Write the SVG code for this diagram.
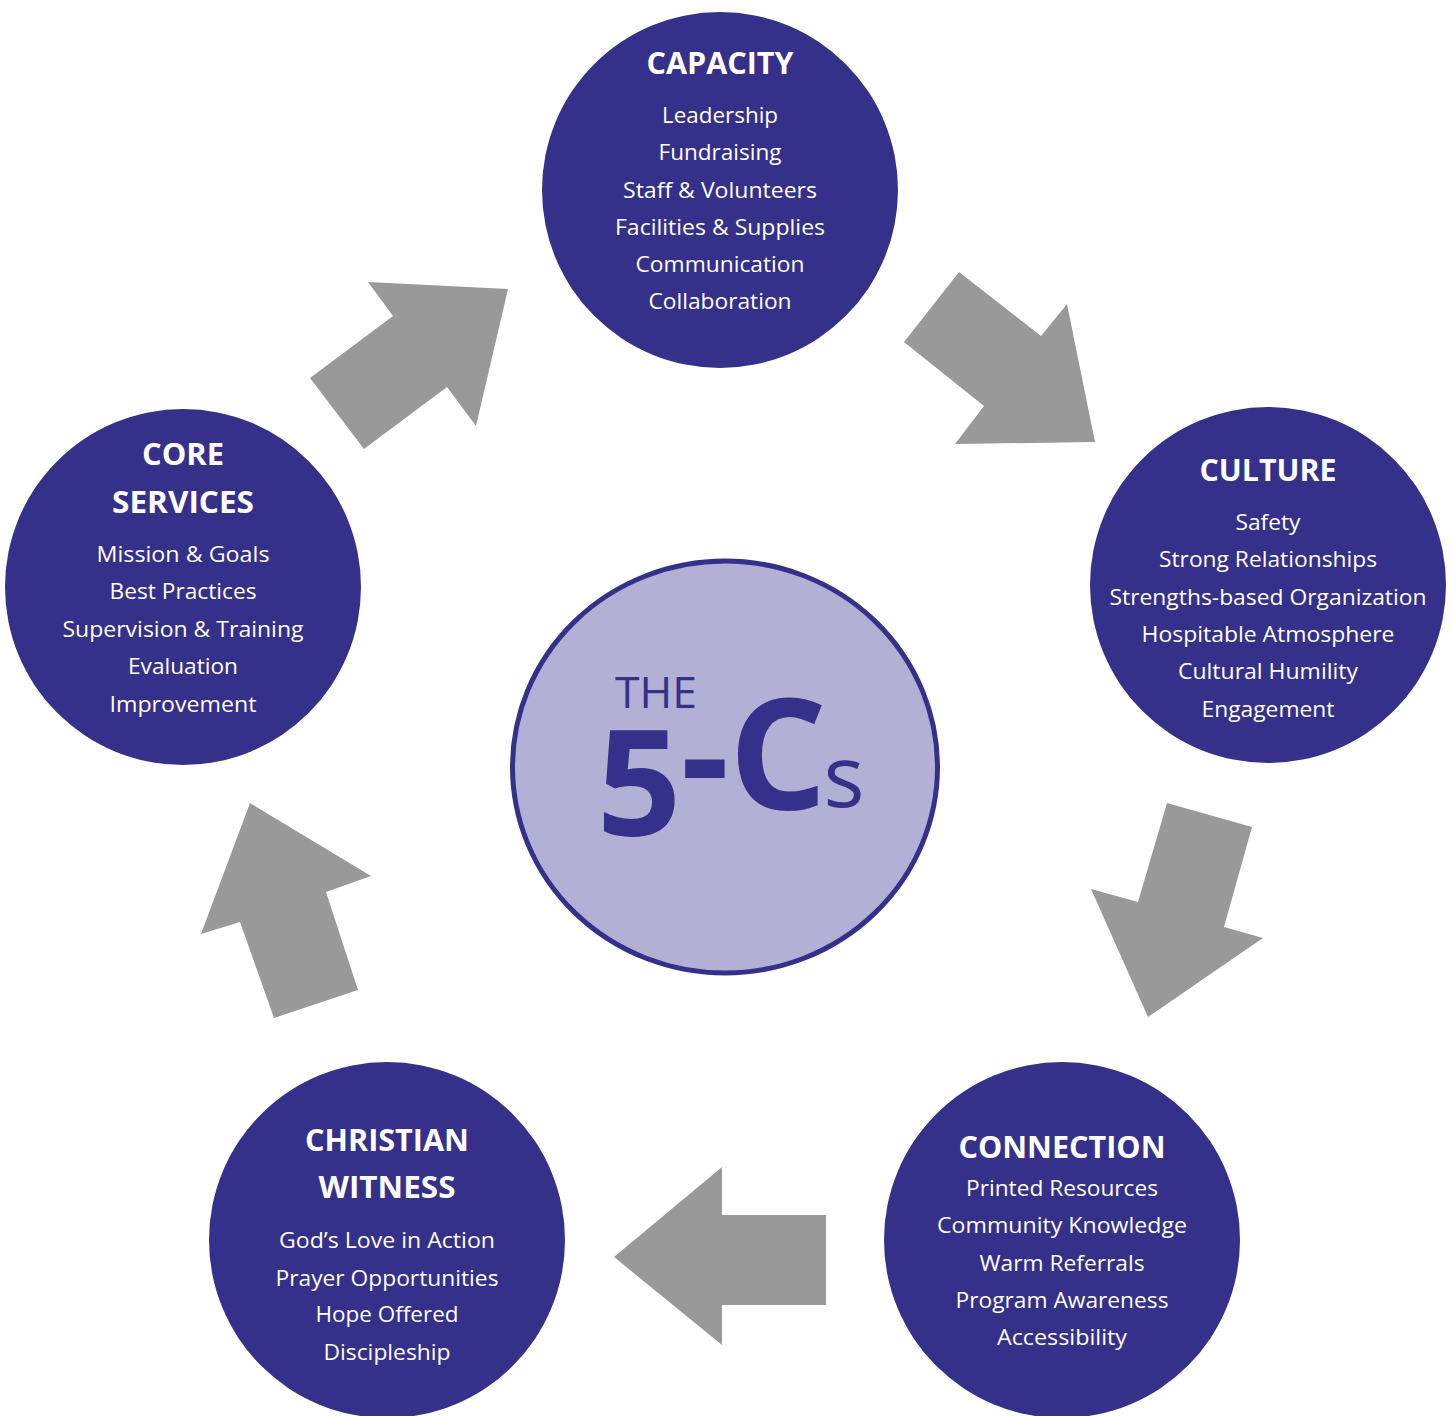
<svg xmlns="http://www.w3.org/2000/svg" width="1453" height="1416" viewBox="0 0 1453 1416">
<style>
.node{fill:#35308a}
.t{font-family:"Open Sans","Liberation Sans",sans-serif;fill:#ffffff;text-anchor:middle}
.h{font-size:30px;font-weight:700}
.b{font-size:22px}
.arrow{fill:#999999}
.c{font-family:"Open Sans","Liberation Sans",sans-serif;fill:#35308a;text-anchor:middle}
</style>
<rect width="1453" height="1416" fill="#ffffff"/>
<g id="connectors">
<polygon class="arrow" points="508,289 476,426 447,387 364,449 310,378 393,316 368,282"/>
<polygon class="arrow" points="959,272 1041,336 1067,304 1095,442 955,444 984,406 904,342"/>
<polygon class="arrow" points="1167,803 1252,827 1224,927 1263,938 1148,1017 1091,889 1138,902"/>
<polygon class="arrow" points="250,803 371,876 326,892 358,990 274,1018 240,922 201,934"/>
<polygon class="arrow" points="722,1167 722,1215 826,1215 826,1305 722,1305 722,1345 614,1257"/>
</g>
<g id="center">
<ellipse cx="725" cy="767" rx="212.5" ry="206" fill="#b2b1d5" stroke="#35308a" stroke-width="5"/>
<text class="c" x="656" y="708" font-size="44" textLength="82" lengthAdjust="spacingAndGlyphs">THE</text>
<text class="c" x="639" y="836" font-size="148" font-weight="700">5</text>
<text class="c" x="705" y="809" font-size="150" font-weight="700">-</text>
<text class="c" x="778" y="809" font-size="154" font-weight="700">C</text>
<text class="c" x="844" y="807" font-size="86" font-weight="400">s</text>
</g>
<g id="capacity">
<circle class="node" cx="720" cy="190" r="178"/>
<text class="t h" x="720" y="74" textLength="147" lengthAdjust="spacingAndGlyphs">CAPACITY</text>
<text class="t b" x="720" y="123" textLength="116" lengthAdjust="spacingAndGlyphs">Leadership</text>
<text class="t b" x="720" y="160" textLength="123" lengthAdjust="spacingAndGlyphs">Fundraising</text>
<text class="t b" x="720" y="198" textLength="194" lengthAdjust="spacingAndGlyphs">Staff &amp; Volunteers</text>
<text class="t b" x="720" y="235" textLength="210" lengthAdjust="spacingAndGlyphs">Facilities &amp; Supplies</text>
<text class="t b" x="720" y="272" textLength="169" lengthAdjust="spacingAndGlyphs">Communication</text>
<text class="t b" x="720" y="309" textLength="143" lengthAdjust="spacingAndGlyphs">Collaboration</text>
</g>
<g id="culture">
<circle class="node" cx="1268" cy="585" r="178"/>
<text class="t h" x="1268" y="481" textLength="137" lengthAdjust="spacingAndGlyphs">CULTURE</text>
<text class="t b" x="1268" y="530" textLength="65" lengthAdjust="spacingAndGlyphs">Safety</text>
<text class="t b" x="1268" y="567" textLength="218" lengthAdjust="spacingAndGlyphs">Strong Relationships</text>
<text class="t b" x="1268" y="605" textLength="317" lengthAdjust="spacingAndGlyphs">Strengths-based Organization</text>
<text class="t b" x="1268" y="642" textLength="253" lengthAdjust="spacingAndGlyphs">Hospitable Atmosphere</text>
<text class="t b" x="1268" y="679" textLength="180" lengthAdjust="spacingAndGlyphs">Cultural Humility</text>
<text class="t b" x="1268" y="717" textLength="133" lengthAdjust="spacingAndGlyphs">Engagement</text>
</g>
<g id="connection">
<circle class="node" cx="1062" cy="1240" r="178"/>
<text class="t h" x="1062" y="1158" textLength="207" lengthAdjust="spacingAndGlyphs">CONNECTION</text>
<text class="t b" x="1062" y="1196" textLength="192" lengthAdjust="spacingAndGlyphs">Printed Resources</text>
<text class="t b" x="1062" y="1233" textLength="250" lengthAdjust="spacingAndGlyphs">Community Knowledge</text>
<text class="t b" x="1062" y="1271" textLength="165" lengthAdjust="spacingAndGlyphs">Warm Referrals</text>
<text class="t b" x="1062" y="1308" textLength="213" lengthAdjust="spacingAndGlyphs">Program Awareness</text>
<text class="t b" x="1062" y="1345" textLength="130" lengthAdjust="spacingAndGlyphs">Accessibility</text>
</g>
<g id="christian-witness">
<circle class="node" cx="387" cy="1240" r="178"/>
<text class="t h" x="387" y="1151" textLength="164" lengthAdjust="spacingAndGlyphs">CHRISTIAN</text>
<text class="t h" x="387" y="1198" textLength="137" lengthAdjust="spacingAndGlyphs">WITNESS</text>
<text class="t b" x="387" y="1248" textLength="216" lengthAdjust="spacingAndGlyphs">God’s Love in Action</text>
<text class="t b" x="387" y="1286" textLength="223" lengthAdjust="spacingAndGlyphs">Prayer Opportunities</text>
<text class="t b" x="387" y="1322" textLength="143" lengthAdjust="spacingAndGlyphs">Hope Offered</text>
<text class="t b" x="387" y="1360" textLength="127" lengthAdjust="spacingAndGlyphs">Discipleship</text>
</g>
<g id="core-services">
<circle class="node" cx="183" cy="587" r="178"/>
<text class="t h" x="183" y="465" textLength="82" lengthAdjust="spacingAndGlyphs">CORE</text>
<text class="t h" x="183" y="513" textLength="142" lengthAdjust="spacingAndGlyphs">SERVICES</text>
<text class="t b" x="183" y="562" textLength="173" lengthAdjust="spacingAndGlyphs">Mission &amp; Goals</text>
<text class="t b" x="183" y="599" textLength="147" lengthAdjust="spacingAndGlyphs">Best Practices</text>
<text class="t b" x="183" y="637" textLength="241" lengthAdjust="spacingAndGlyphs">Supervision &amp; Training</text>
<text class="t b" x="183" y="674" textLength="110" lengthAdjust="spacingAndGlyphs">Evaluation</text>
<text class="t b" x="183" y="712" textLength="147" lengthAdjust="spacingAndGlyphs">Improvement</text>
</g>
</svg>
